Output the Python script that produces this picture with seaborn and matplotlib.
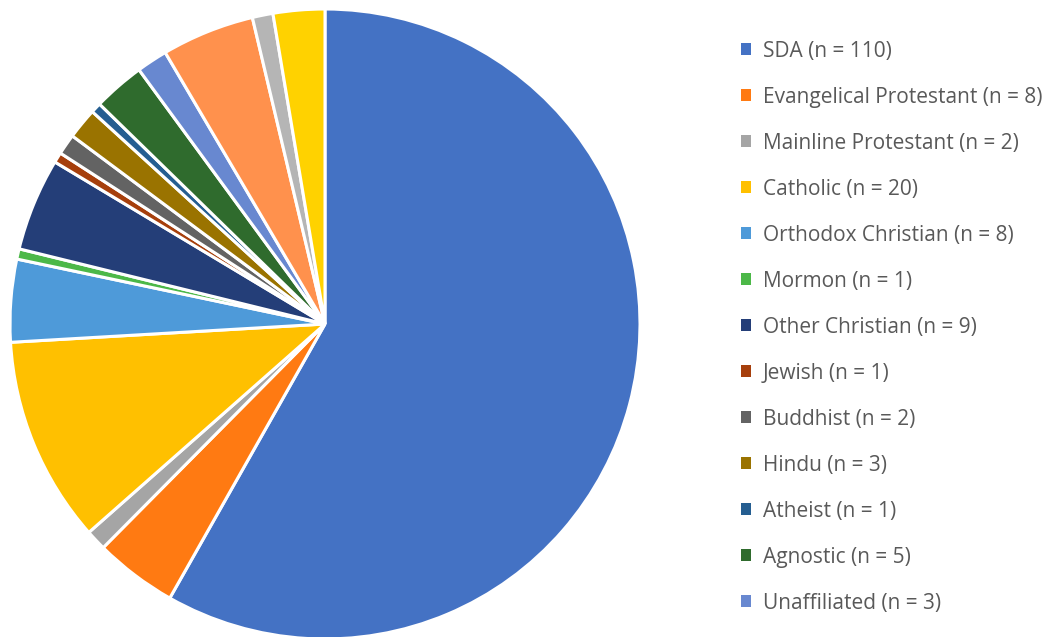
import matplotlib
matplotlib.use("Agg")
import matplotlib.pyplot as plt
import seaborn as sns
from matplotlib.patches import Patch

#####################################
### DATA
#####################################
groups = ["SDA", "Evangelical Protestant", "Mainline Protestant", "Catholic",
          "Orthodox Christian", "Mormon", "Other Christian", "Jewish",
          "Buddhist", "Hindu", "Atheist", "Agnostic", "Unaffiliated"]
counts = [110, 8, 2, 20, 8, 1, 9, 1, 2, 3, 1, 5, 3]

# slices drawn in the pie but cut off from the legend
extra_counts = [9, 2, 5]

colors = ["#4472C4", "#FF7A12", "#A5A5A5", "#FFC000", "#4E9AD9", "#4CB848",
          "#243E78", "#A63F0C", "#636363", "#9A7300", "#255E91", "#2F6B2D",
          "#6888D0", "#FF914D", "#B5B5B5", "#FFD200"]

#####################################
### PLOT BUILD
#####################################
sns.set_style("white")
plt.rcParams["font.family"] = ["Open Sans", "DejaVu Sans"]

fig = plt.figure(figsize=(10.58, 6.37), dpi=100)
ax = fig.add_axes([10 / 1058, -2 / 637, 630 / 1058, 630 / 637])

ax.pie(
    counts + extra_counts,
    colors=colors,
    startangle=90,
    counterclock=False,
    wedgeprops=dict(edgecolor="white", linewidth=2.2),
)
ax.set_xlim(-1.0, 1.0)
ax.set_ylim(-1.0, 1.0)
ax.set_aspect("equal")
ax.axis("off")

handles = [Patch(facecolor=c, edgecolor="none") for c in colors[:len(groups)]]
labels = ["{} (n = {})".format(g, n) for g, n in zip(groups, counts)]
fig.legend(
    handles, labels,
    loc="upper left",
    bbox_to_anchor=(722 / 1058, 1 - 22 / 637),
    frameon=False,
    fontsize=15,
    labelcolor="#595959",
    handlelength=0.5,
    handleheight=0.5,
    handletextpad=0.55,
    labelspacing=1.2,
)

fig.savefig("out.png", dpi=100)
plt.close()
